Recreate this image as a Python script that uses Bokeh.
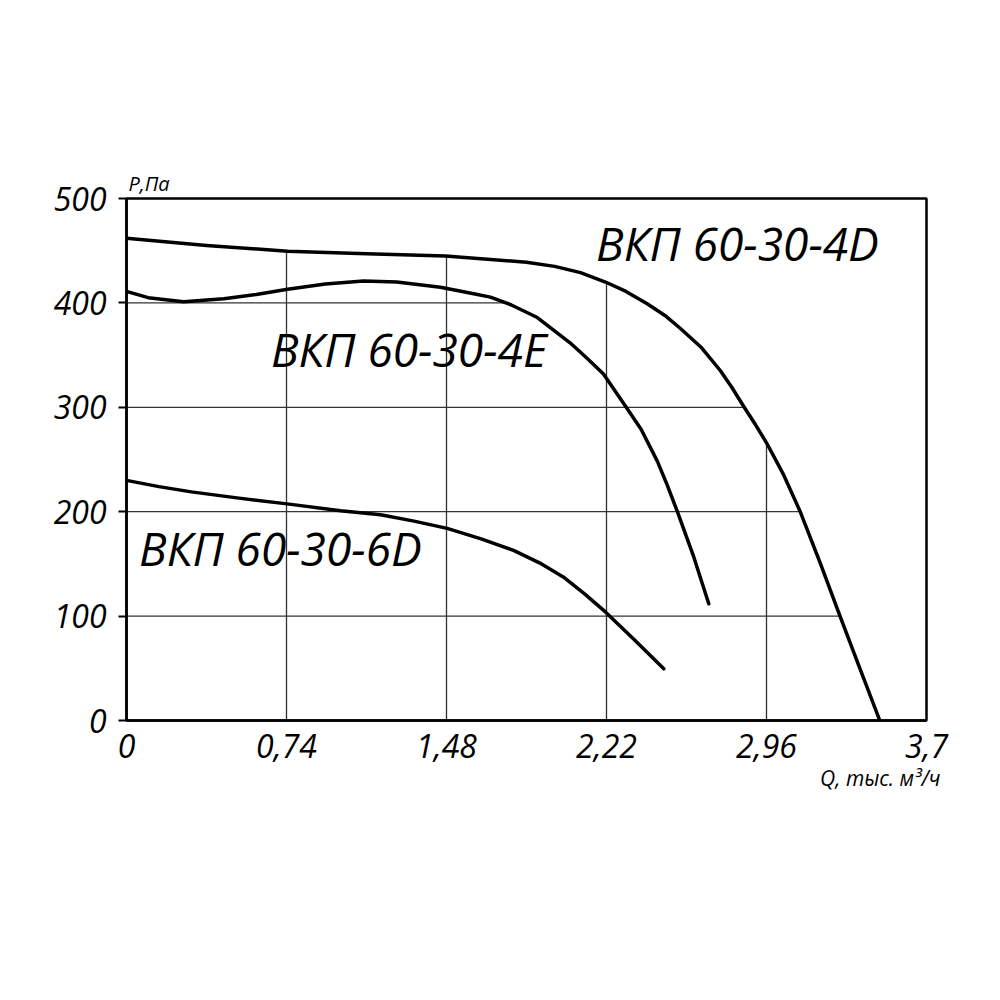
import numpy as np
from bokeh.plotting import figure
from bokeh.models import Range1d, FixedTicker, Label, Title
from bokeh.embed import file_html
from bokeh.resources import INLINE

# ---- data ----
q_4d = [0, 0.37, 0.745, 1.11, 1.475, 1.85, 1.98, 2.10, 2.215, 2.31, 2.41, 2.49, 2.562, 2.66,
        2.747, 2.80, 2.854, 2.91, 2.96, 3.04, 3.114, 3.21, 3.30, 3.39, 3.484]
p_4d = [462, 455, 449.5, 447, 445, 439, 435, 429, 420, 411, 399, 388, 375.5, 357,
        335, 319, 301, 283, 266, 235, 201, 150, 100, 51, 0]

q_4e = [0, 0.10, 0.264, 0.45, 0.60, 0.745, 0.92, 1.096, 1.25, 1.452, 1.60, 1.683, 1.78, 1.90,
        2.05, 2.13, 2.206, 2.308, 2.38, 2.456, 2.50, 2.547, 2.624, 2.693]
p_4e = [411, 405, 401, 404, 408, 413, 418, 421, 420, 415, 409, 405.5, 398, 386,
        362, 347, 332, 301, 279, 248, 226, 200.5, 156.4, 111.8]

q_6d = [0, 0.15, 0.30, 0.52, 0.743, 0.99, 1.175, 1.33, 1.483, 1.64, 1.79, 1.91, 2.02, 2.12,
        2.215, 2.35, 2.485]
p_6d = [230, 224, 219, 213, 207.5, 201, 197, 191, 184, 174, 163, 151, 137.5, 121,
        104, 77, 49.5]

series_names = ["ВКП 60-30-4D", "ВКП 60-30-4E", "ВКП 60-30-6D"]

x_ticks = [0, 0.74, 1.48, 2.22, 2.96, 3.7]
x_tick_labels = ["0", "0,74", "1,48", "2,22", "2,96", "3,7"]
y_ticks = [0, 100, 200, 300, 400, 500]
y_tick_labels = ["0", "100", "200", "300", "400", "500"]

x_title = "Q, тыс. м³/ч"
y_title = "P,Па"

FONT = "Open Sans"

p = figure(output_backend="svg", toolbar_location=None,
           frame_width=800, frame_height=522,
           x_range=Range1d(0, 3.7), y_range=Range1d(0, 500),
           min_border_left=126, min_border_top=198,
           min_border_right=40, min_border_bottom=100)

p.grid.visible = False
p.background_fill_color = "white"
p.border_fill_color = "white"
p.outline_line_color = "black"
p.outline_line_width = 2.5

# axes
for ax in (p.xaxis[0], p.yaxis[0]):
    ax.axis_line_color = "black"
    ax.axis_line_width = 2.5
    ax.minor_tick_line_color = None
    ax.major_label_text_font = FONT
    ax.major_label_text_font_style = "italic"
    ax.major_label_text_font_size = "32px"
    ax.major_label_text_color = "black"

p.xaxis.ticker = FixedTicker(ticks=x_ticks)
p.xaxis.major_label_overrides = {t: l for t, l in zip(x_ticks, x_tick_labels)}
p.xaxis.major_tick_line_color = None
p.xaxis.major_tick_out = 0
p.xaxis.major_tick_in = 0
p.xaxis.major_label_standoff = 13

p.yaxis.ticker = FixedTicker(ticks=y_ticks)
p.yaxis.major_label_overrides = {t: l for t, l in zip(y_ticks, y_tick_labels)}
p.yaxis.major_tick_line_color = "black"
p.yaxis.major_tick_line_width = 2
p.yaxis.major_tick_out = 8
p.yaxis.major_tick_in = 0
p.yaxis.major_label_standoff = 12

# gridlines clipped below the upper (4D) curve
q4 = np.array(q_4d, dtype=float)
p4 = np.array(p_4d, dtype=float)
q4e = np.array(q_4e, dtype=float)
p4e = np.array(p_4e, dtype=float)
imax = int(np.argmax(p4e))

vx = list(x_ticks[1:-1])
vtop = [float(np.interp(t, q4, p4)) for t in vx]
p.segment(x0=vx, y0=[0] * len(vx), x1=vx, y1=vtop, line_color="#333333", line_width=1.3)

hy = list(y_ticks[1:-1])
hend = []
for t in hy:
    end = float(np.interp(t, p4[::-1], q4[::-1]))
    if t > p4e[:imax + 1].min() - 5 and t <= p4e.max():
        # the 400 line stops where it meets the falling part of the 4E curve
        end = float(np.interp(t, p4e[imax:][::-1], q4e[imax:][::-1]))
    hend.append(end)
p.segment(x0=[0] * len(hy), y0=hy, x1=hend, y1=hy, line_color="#333333", line_width=1.3)

# curves
for qs, ps in ((q_4d, p_4d), (q_4e, p_4e), (q_6d, p_6d)):
    p.line(qs, ps, line_color="black", line_width=3.5, line_cap="round", line_join="round")

# curve labels
label_pos = [(2.172, 457), (0.668, 356), (0.058, 165)]
for name, (lx, ly) in zip(series_names, label_pos):
    p.add_layout(Label(x=lx, y=ly, text=name, text_font=FONT, text_font_style="italic",
                       text_font_size="46px", text_color="black",
                       text_align="left", text_baseline="alphabetic"))

# axis titles
p.add_layout(Title(text=y_title, align="left", offset=2, standoff=4, text_font=FONT,
                   text_font_style="italic", text_font_size="20px", text_color="black"), "above")
p.add_layout(Title(text=x_title, align="right", offset=-14, standoff=3, text_font=FONT,
                   text_font_style="italic", text_font_size="21px", text_color="black"), "below")

open("out.html", "w").write(file_html(p, INLINE))
